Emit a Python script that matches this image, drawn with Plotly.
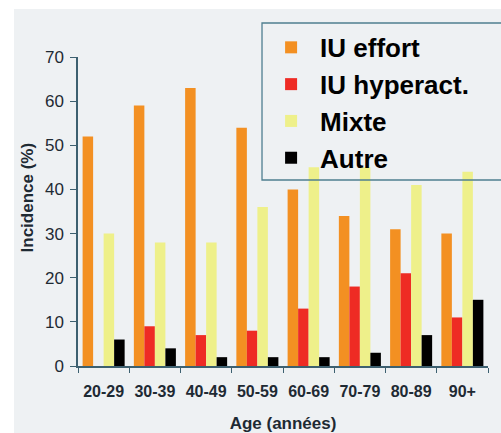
import plotly.graph_objects as go

categories = ["20-29", "30-39", "40-49", "50-59", "60-69", "70-79", "80-89", "90+"]
iu_effort = [52, 59, 63, 54, 40, 34, 31, 30]
iu_hyperact = [0, 9, 7, 8, 13, 18, 21, 11]
mixte = [30, 28, 28, 36, 45, 45, 41, 44]
autre = [6, 4, 2, 2, 2, 3, 7, 15]
y_ticks = [0, 10, 20, 30, 40, 50, 60, 70]

series = [
    ("IU effort", iu_effort, "#f39022"),
    ("IU hyperact.", iu_hyperact, "#ee2b24"),
    ("Mixte", mixte, "#eef08a"),
    ("Autre", autre, "#000000"),
]

fig = go.Figure()
for name, vals, col in series:
    fig.add_trace(go.Bar(x=categories, y=vals, name=name, marker=dict(color=col, line=dict(width=0))))

axis_col = "#3d6070"
txt_col = "#1e2a33"
fam = "Liberation Sans, Arial"

fig.update_layout(
    width=501, height=433,
    margin=dict(l=78, r=13, t=57, b=67),
    paper_bgcolor="white",
    plot_bgcolor="rgba(0,0,0,0)",
    barmode="group",
    bargap=0.18,
    bargroupgap=0,
    font=dict(family=fam, color=txt_col),
    shapes=[
        dict(type="rect", xref="paper", yref="paper", x0=-0.156, x1=1.5, y0=-0.5, y1=1.155,
             fillcolor="#eef1f3", line=dict(width=0), layer="below"),
        dict(type="rect", xref="paper", yref="paper", x0=0.4488, x1=1.1, y0=0.602, y1=1.110,
             fillcolor="rgba(0,0,0,0)", line=dict(width=1.3, color="#4f7f90"), layer="above"),
    ],
    xaxis=dict(
        automargin=False,
        showgrid=False, showline=True, linecolor=axis_col, linewidth=1.5,
        ticks="outside", tickson="boundaries", ticklen=5, tickcolor=axis_col,
        tickfont=dict(family=fam, size=16, color=txt_col, weight="bold"),
        ticklabelstandoff=10,
        title=dict(text="Age (années)", font=dict(family=fam, size=17, color=txt_col, weight="bold"), standoff=20),
    ),
    yaxis=dict(
        automargin=False,
        range=[0, 70], tickvals=y_ticks, showgrid=False, zeroline=False,
        showline=True, linecolor=axis_col, linewidth=1.5,
        ticks="outside", ticklen=6, tickcolor=axis_col,
        tickfont=dict(family=fam, size=17, color=txt_col),
        ticklabelstandoff=3,
    ),
    annotations=[dict(text="Incidence (%)", textangle=-90, xref="paper", yref="paper",
                      x=-0.123, y=0.544, xanchor="center", yanchor="middle", showarrow=False,
                      font=dict(family=fam, size=17, color=txt_col, weight="bold"))],
    legend=dict(
        x=0.449, y=1.107, xanchor="left", yanchor="top",
        bgcolor="rgba(0,0,0,0)", borderwidth=0,
        font=dict(family=fam, size=26, color="#000000", weight="bold"),
        itemwidth=48,
    ),
)

fig.write_html("out.html", config={"displayModeBar": False},
               post_script="document.body.style.margin='0';document.body.style.overflow='hidden';")
